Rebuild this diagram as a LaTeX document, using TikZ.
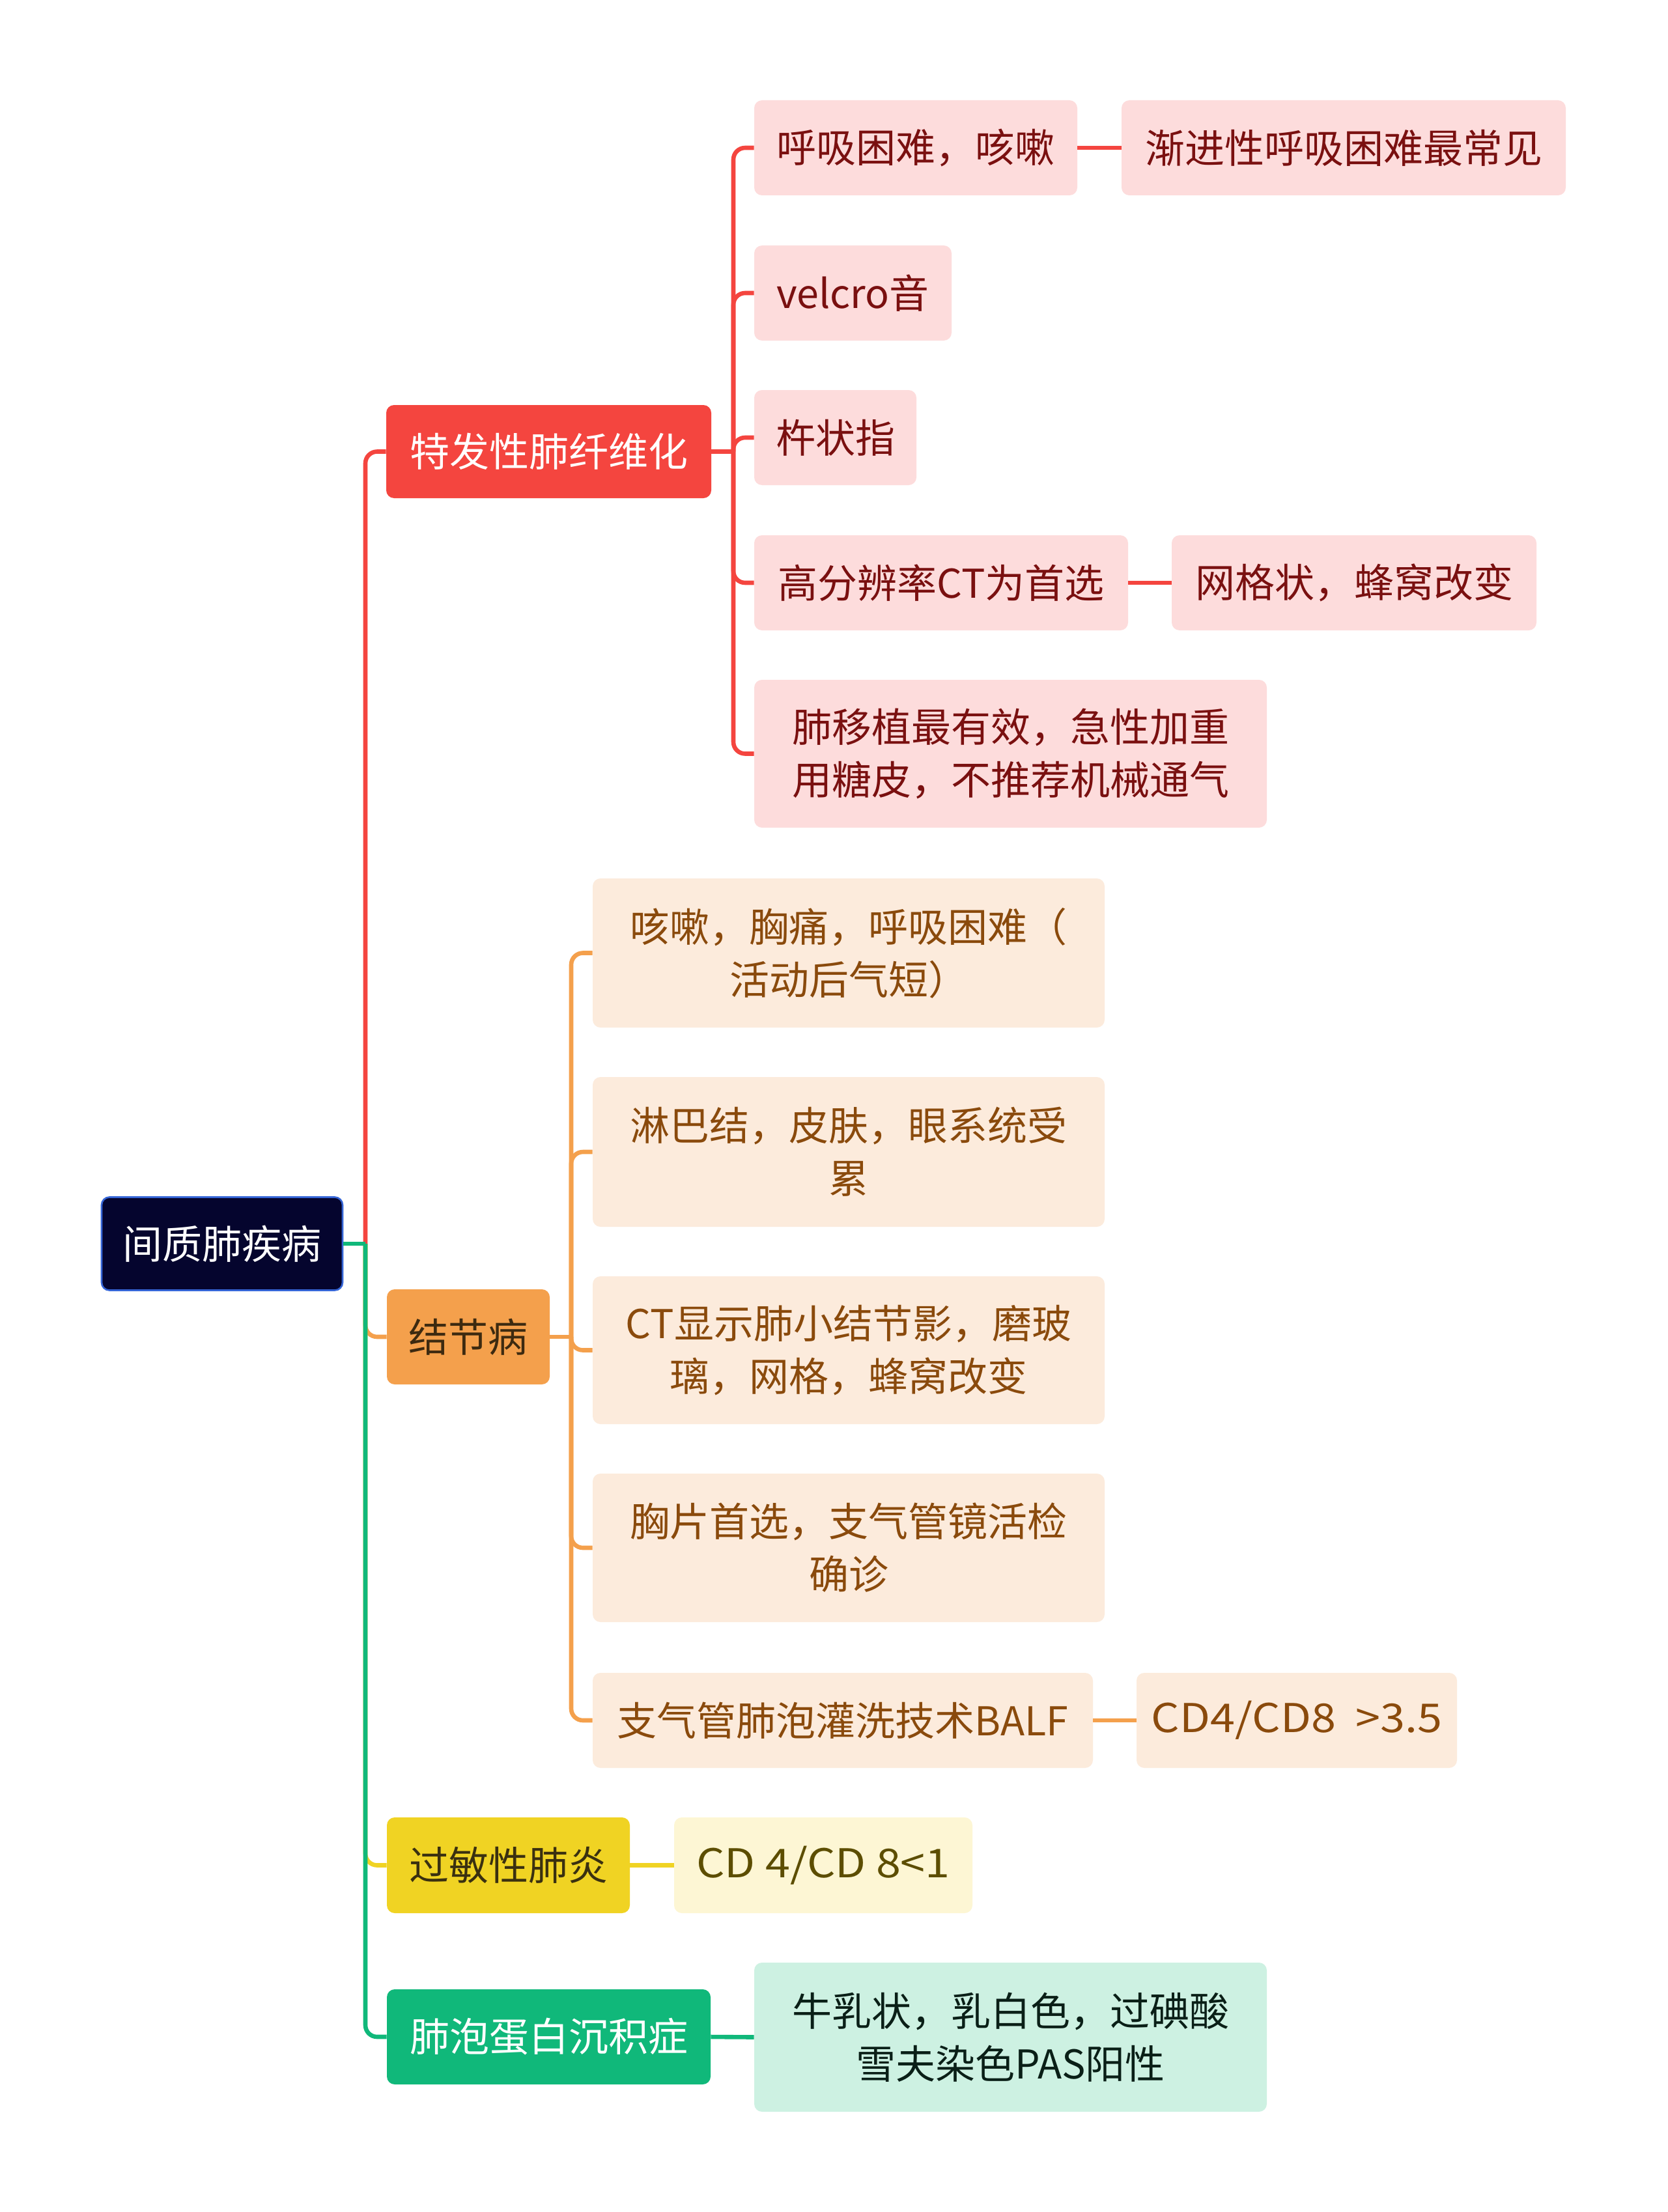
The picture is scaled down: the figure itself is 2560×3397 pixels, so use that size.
\documentclass[tikz,border=0pt]{standalone}
\usepackage{fontspec}
\setmainfont{Noto Sans CJK SC}
\newfontfamily\latinw[FakeStretch=1.12]{Noto Sans CJK SC}
\definecolor{rootfill}{HTML}{05052E}
\definecolor{rootdraw}{HTML}{3565D6}
\definecolor{redm}{HTML}{F4453F}
\definecolor{redl}{HTML}{FDDCDC}
\definecolor{redt}{HTML}{7A1010}
\definecolor{orm}{HTML}{F4A04C}
\definecolor{orl}{HTML}{FCEBDC}
\definecolor{ort}{HTML}{8A4A0C}
\definecolor{orh}{HTML}{3D2A10}
\definecolor{yem}{HTML}{F0D323}
\definecolor{yel}{HTML}{FDF6D4}
\definecolor{yet}{HTML}{5C4D00}
\definecolor{yeh}{HTML}{3A3010}
\definecolor{grm}{HTML}{10B87A}
\definecolor{grl}{HTML}{CDF1E2}
\definecolor{grt}{HTML}{0A1F17}
\begin{document}
\begin{tikzpicture}[x=0.5pt,y=-0.5pt,
  box/.style={rounded corners=6pt, inner sep=0pt, align=center, font=\fontsize{30.5}{40.5}\selectfont},
  rootbox/.style={box, fill=rootfill, draw=rootdraw, line width=1.3pt, text=white},
  redhead/.style={box, fill=redm, text=white},
  orhead/.style={box, fill=orm, text=orh},
  yehead/.style={box, fill=yem, text=yeh},
  grhead/.style={box, fill=grm, text=white},
  redleaf/.style={box, fill=redl, text=redt},
  orleaf/.style={box, fill=orl, text=ort},
  yeleaf/.style={box, fill=yel, text=yet},
  grleaf/.style={box, fill=grl, text=grt},
  conn/.style={line width=3.3pt, rounded corners=9pt},
  redc/.style={conn, draw=redm},
  orc/.style={conn, draw=orm},
  yec/.style={conn, draw=yem},
  grc/.style={conn, draw=grm}]
\useasboundingbox (0,0) rectangle (2560,3397);
\fill[white] (0,0) rectangle (2560,3397);

% root and main branches
\node[rootbox, minimum width=185pt, minimum height=71.5pt] (root) at (341,1910) {间质肺疾病};
\node[redhead, minimum width=249.5pt, minimum height=71.5pt] (n1) at (842.5,693.5) {特发性肺纤维化};
\node[orhead, minimum width=125pt, minimum height=73pt] (n2) at (719,2053) {结节病};
\node[yehead, minimum width=186.5pt, minimum height=73.5pt] (n3) at (780.5,2864.5) {过敏性肺炎};
\node[grhead, minimum width=248.5pt, minimum height=73pt] (n4) at (842.5,3128) {肺泡蛋白沉积症};

% red group
\node[redleaf, minimum width=248pt, minimum height=73pt] (a1) at (1406,227) {呼吸困难，咳嗽};
\node[redleaf, minimum width=341pt, minimum height=73pt] (a1b) at (2063,227) {渐进性呼吸困难最常见};
\node[redleaf, minimum width=151.5pt, minimum height=73pt] (a2) at (1309.5,450) {velcro音};
\node[redleaf, minimum width=124.5pt, minimum height=73pt] (a3) at (1282.5,672) {杵状指};
\node[redleaf, minimum width=287pt, minimum height=73pt] (a4) at (1445,895) {高分辨率CT为首选};
\node[redleaf, minimum width=280pt, minimum height=73pt] (a4b) at (2079,895) {网格状，蜂窝改变};
\node[redleaf, minimum width=393.5pt, minimum height=113.5pt] (a5) at (1551.5,1157.5) {肺移植最有效，急性加重\\用糖皮，不推荐机械通气};

% orange group
\node[orleaf, minimum width=393pt, minimum height=114.5pt] (b1) at (1303,1463.5) {咳嗽，胸痛，呼吸困难（\\活动后气短）};
\node[orleaf, minimum width=393pt, minimum height=115pt] (b2) at (1303,1769) {淋巴结，皮肤，眼系统受\\累};
\node[orleaf, minimum width=393pt, minimum height=113.5pt] (b3) at (1303,2073.5) {CT显示肺小结节影，磨玻\\璃，网格，蜂窝改变};
\node[orleaf, minimum width=393pt, minimum height=114pt] (b4) at (1303,2377) {胸片首选，支气管镜活检\\确诊};
\node[orleaf, minimum width=384pt, minimum height=73pt] (b5) at (1294,2642) {支气管肺泡灌洗技术BALF};
\node[orleaf, minimum width=246pt, minimum height=73pt] (b5b) at (1991,2642) {\latinw CD4/CD8\ \ >3.5};

% yellow and green leaves
\node[yeleaf, minimum width=229pt, minimum height=73.5pt] (c1) at (1264,2864.5) {\latinw CD 4/CD 8<1};
\node[grleaf, minimum width=393.5pt, minimum height=114.5pt] (d1) at (1551.5,3128.5) {牛乳状，乳白色，过碘酸\\雪夫染色PAS阳性};

% junctions
\coordinate (tj) at (561,1910);
\coordinate (rj) at (1126,693.5);
\coordinate (oj) at (877,2053);

% trunk connectors
\draw[redc, rounded corners=0pt] (root.east) -- (tj);
\draw[redc] (tj) |- (n1.west);
\draw[orc] (tj) |- (n2.west);
\draw[yec] (tj) |- (n3.west);
\draw[grc] (tj) |- (n4.west);
\draw[grc, rounded corners=0pt] (root.east) -- (tj);

% red connectors
\draw[redc, rounded corners=0pt] (n1.east) -- (rj);
\draw[redc] (rj) |- (a1.west);
\draw[redc] (rj) |- (a2.west);
\draw[redc] (rj) |- (a3.west);
\draw[redc] (rj) |- (a4.west);
\draw[redc] (rj) |- (a5.west);
\draw[redc] (a1.east) -- (a1b.west);
\draw[redc] (a4.east) -- (a4b.west);

% orange connectors
\draw[orc, rounded corners=0pt] (n2.east) -- (oj);
\draw[orc] (oj) |- (b1.west);
\draw[orc] (oj) |- (b2.west);
\draw[orc] (oj) |- (b3.west);
\draw[orc] (oj) |- (b4.west);
\draw[orc] (oj) |- (b5.west);
\draw[orc] (b5.east) -- (b5b.west);

% yellow and green connectors
\draw[yec] (n3.east) -- (c1.west);
\draw[grc] (n4.east) -- (d1.west);
\end{tikzpicture}
\end{document}
